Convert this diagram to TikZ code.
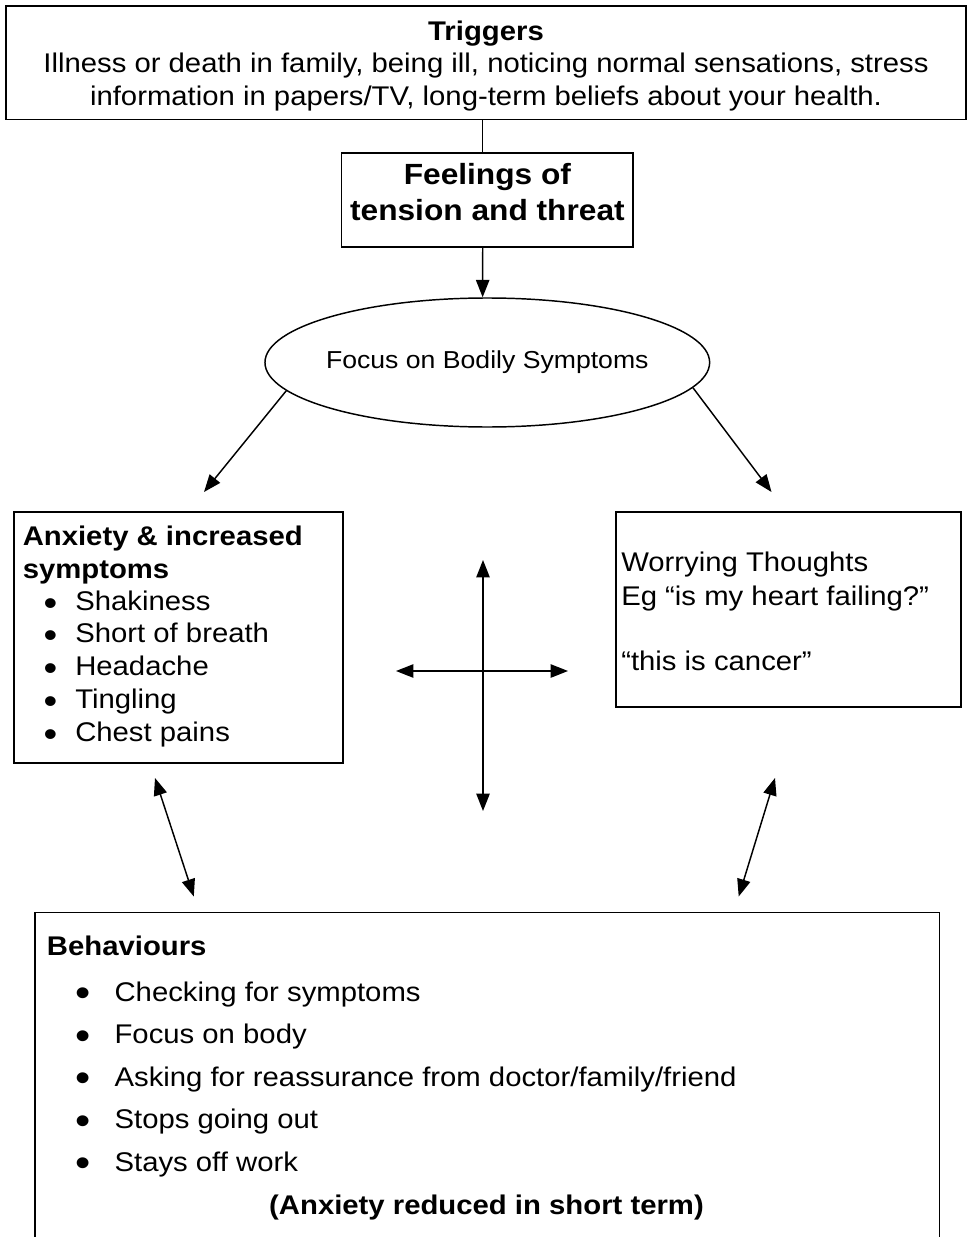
\documentclass[tikz,border=0pt]{standalone}
\usepackage{fontspec}
\setmainfont[FakeStretch=1.085]{Liberation Sans}
\usetikzlibrary{arrows.meta,shapes.geometric}
\begin{document}
\begin{tikzpicture}[x=0.75pt,y=-0.75pt,
  box/.style={draw, line width=1.1pt, rectangle, inner sep=0pt},
  f/.style={inner sep=0pt, font=\fontsize{20.25pt}{24pt}\selectfont},
  fb/.style={inner sep=0pt, font=\fontsize{20.25pt}{24pt}\selectfont\bfseries},
  lw/.style={anchor=base west},
  lc/.style={anchor=base},
  bula/.style={inner sep=0pt, anchor=base, font=\fontsize{27pt}{27pt}\selectfont},
  bulb/.style={inner sep=0pt, anchor=base, font=\fontsize{30pt}{30pt}\selectfont},
  tip/.tip={Triangle[length=13pt,width=10pt]},
  arr/.style={line width=1.1pt, -tip},
  darr/.style={line width=1.1pt, tip-tip},
  conn/.style={line width=1.1pt}]
\useasboundingbox (0,0) rectangle (971,1237);
\clip (0,0) rectangle (971,1237);

% boxes
\node[box, minimum width=720pt, minimum height=85.1pt] (trig) at (486,62.75) {};
\node[box, minimum width=218.5pt, minimum height=70.5pt] (feel) at (487.4,200) {};
\node[draw, line width=1.1pt, ellipse, inner sep=0pt, minimum width=333.5pt, minimum height=96.75pt] (ell) at (487.3,362.5) {};
\node[box, minimum width=246.75pt, minimum height=188.25pt] (anx) at (178.5,637.5) {};
\node[box, minimum width=258.75pt, minimum height=146.25pt] (wor) at (788.5,609.5) {};
\node[box, minimum width=678.4pt, minimum height=290.6pt] (beh) at (487.25,1106.25) {};

% triggers text
\node[fb, lc] (trig1) at (486,41) {Triggers};
\node[f, lc] (trig2) at (486,73) {Illness or death in family, being ill, noticing normal sensations, stress};
\node[f, lc] (trig3) at (486,106) {information in papers/TV, long-term beliefs about your health.};

% feelings text
\node[inner sep=0pt, lc, font=\fontsize{21.9pt}{26pt}\selectfont\bfseries] (feel1) at (487.4,185) {Feelings of};
\node[inner sep=0pt, lc, font=\fontsize{21.9pt}{26pt}\selectfont\bfseries] (feel2) at (487.4,221) {tension and threat};

% ellipse text
\node[inner sep=0pt, lc, font=\fontsize{18.4pt}{22pt}\selectfont] (elltxt) at (487.3,368) {Focus on Bodily Symptoms};

% anxiety text
\node[fb, lw] (anx1) at (22.5,545) {Anxiety \& increased};
\node[fb, lw] (anx2) at (22.5,578) {symptoms};
\foreach \t [count=\i] in {Shakiness,Short of breath,Headache,Tingling,Chest pains}{
  \node[bula] (anxb\i) at (50.5,{610+32.75*(\i-1)}) {\smash{\raisebox{-3.75pt}{•}}};
  \node[f, lw] (anxi\i) at (75,{610+32.75*(\i-1)}) {\t};
}

% worrying text
\node[f, lw] (wor1) at (621,571) {Worrying Thoughts};
\node[f, lw] (wor2) at (621,605) {Eg “is my heart failing?”};
\node[f, lw] (wor3) at (621,670) {“this is cancer”};

% behaviours text
\node[fb, lw] (beh0) at (46.7,955) {Behaviours};
\foreach \t/\y [count=\i] in {Checking for symptoms/1001,Focus on body/1043.5,Asking for reassurance from doctor\slash family\slash friend/1086,Stops going out/1128.5,Stays off work/1171}{
  \node[bulb] (behb\i) at (83.3,\y) {\smash{\raisebox{-4.3pt}{•}}};
  \node[f, lw] (behi\i) at (114.3,\y) {\t};
}
\node[fb, lc] (beh6) at (486.5,1214) {(Anxiety reduced in short term)};

% connectors
\coordinate (la) at (204,492);
\coordinate (ra) at (771.5,492);
\coordinate (vt) at (483,560);
\coordinate (vb) at (483,811);
\coordinate (hl) at (396,671);
\coordinate (hr) at (568,671);
\coordinate (ldt) at (155,778);
\coordinate (ldb) at (193.8,896.5);
\coordinate (rdt) at (775,778);
\coordinate (rdb) at (738.7,896.5);

\draw[conn] ([xshift=-3.5pt]feel.north) -- ([xshift=-3.5pt]feel.north |- trig.south);
\draw[arr] ([xshift=-3.5pt]feel.south) -- ([xshift=-3.5pt]ell.north);
\draw[arr] (ell.188) -- (la);
\draw[arr] (ell.-7) -- (ra);
\draw[darr] (vt) -- (vb);
\draw[darr] (hl) -- (hr);
\draw[darr] (ldt) -- (ldb);
\draw[darr] (rdt) -- (rdb);
\end{tikzpicture}
\end{document}
